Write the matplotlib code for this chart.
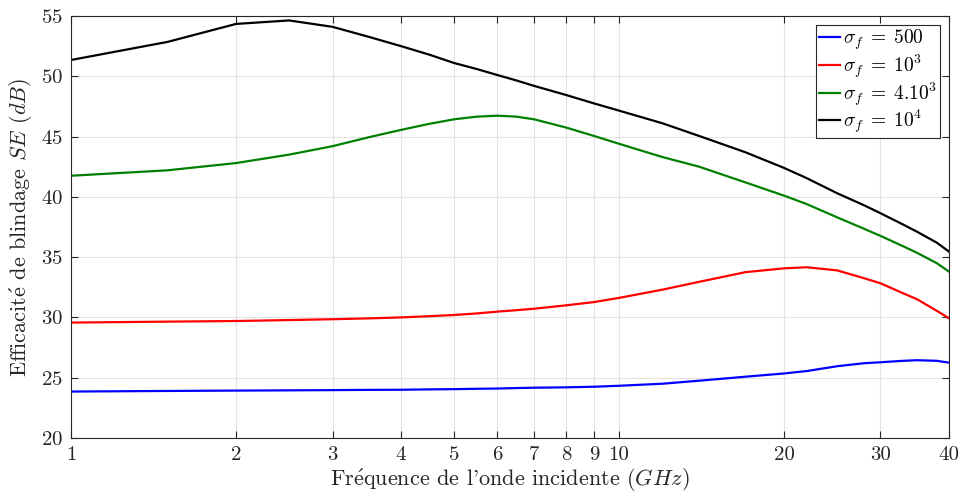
import numpy as np
import matplotlib
matplotlib.use('Agg')
import matplotlib.pyplot as plt
from matplotlib.ticker import FixedLocator, FixedFormatter, NullLocator

plt.rcParams['font.family'] = ['cmr10', 'DejaVu Serif']
plt.rcParams['mathtext.fontset'] = 'cm'
plt.rcParams['axes.formatter.use_mathtext'] = True

# frequences (GHz)
freq = [1, 1.5, 2, 2.5, 3, 3.5, 4, 4.5, 5, 5.5, 6, 6.5, 7, 8, 9, 10,
        12, 14, 17, 20, 22, 25, 28, 30, 33, 35, 38, 40]

# efficacite de blindage (dB) pour chaque conductivite
se_500 = [23.85, 23.9, 23.93, 23.95, 23.97, 23.99, 24.0, 24.03, 24.05, 24.08, 24.1,
          24.14, 24.17, 24.2, 24.25, 24.33, 24.5, 24.75, 25.08, 25.35, 25.55, 25.95,
          26.2, 26.28, 26.4, 26.45, 26.4, 26.25]
se_1e3 = [29.57, 29.65, 29.7, 29.78, 29.85, 29.92, 30.0, 30.1, 30.2, 30.33, 30.48,
          30.6, 30.72, 31.0, 31.27, 31.62, 32.3, 32.95, 33.75, 34.07, 34.16, 33.9,
          33.25, 32.83, 32.0, 31.5, 30.55, 29.93]
se_4e3 = [41.75, 42.2, 42.8, 43.5, 44.2, 44.95, 45.55, 46.05, 46.43, 46.65, 46.73,
          46.65, 46.43, 45.75, 45.05, 44.4, 43.3, 42.5, 41.2, 40.1, 39.4, 38.3,
          37.35, 36.76, 35.9, 35.35, 34.5, 33.8]
se_1e4 = [51.35, 52.85, 54.34, 54.63, 54.1, 53.26, 52.5, 51.8, 51.1, 50.6, 50.1,
          49.65, 49.2, 48.45, 47.75, 47.15, 46.1, 45.05, 43.7, 42.4, 41.55, 40.3,
          39.3, 38.64, 37.7, 37.1, 36.2, 35.46]

xticks = [1, 2, 3, 4, 5, 6, 7, 8, 9, 10, 20, 30, 40]

fig = plt.figure(figsize=(9.64, 5.04), dpi=100)
ax = fig.add_axes([0.0737, 0.131, 0.9107, 0.8373])

ax.plot(freq, se_500, color='#0000ff', lw=1.6, label=r'$\sigma_f\;=\;500$')
ax.plot(freq, se_1e3, color='#ff0000', lw=1.6, label=r'$\sigma_f\;=\;10^3$')
ax.plot(freq, se_4e3, color='#008000', lw=1.6, label=r'$\sigma_f\;=\;4.10^3$')
ax.plot(freq, se_1e4, color='#000000', lw=1.6, label=r'$\sigma_f\;=\;10^4$')

ax.set_xscale('log')
ax.set_xlim(1, 40)
ax.set_ylim(20, 55)
ax.xaxis.set_major_locator(FixedLocator(xticks))
ax.xaxis.set_major_formatter(FixedFormatter([str(t) for t in xticks]))
ax.xaxis.set_minor_locator(NullLocator())
ax.set_yticks(np.arange(20, 56, 5))

ax.grid(True, color='#e3e3e3', lw=0.8)
ax.set_axisbelow(True)
ax.tick_params(direction='in', top=True, right=True, length=5, width=0.8,
               labelsize=15, colors='#262626', pad=6)
for s in ax.spines.values():
    s.set_color('#262626')
    s.set_linewidth(0.8)

ax.set_xlabel(r"Fr$\mathrm{\acute{e}}$quence de l'onde incidente ($GHz$)",
              fontsize=16, color='#262626', labelpad=2)
ax.set_ylabel(r"Efficacit$\mathrm{\acute{e}}$ de blindage $SE$ ($dB$)",
              fontsize=16, color='#262626', labelpad=4)

leg = ax.legend(loc='upper right', fontsize=14, handlelength=1.1, handletextpad=0.15,
                borderpad=0.15, labelspacing=0.0, borderaxespad=0.45, fancybox=False,
                edgecolor='#262626', framealpha=1)
leg.get_frame().set_linewidth(0.8)

fig.savefig('out.png', dpi=100)
